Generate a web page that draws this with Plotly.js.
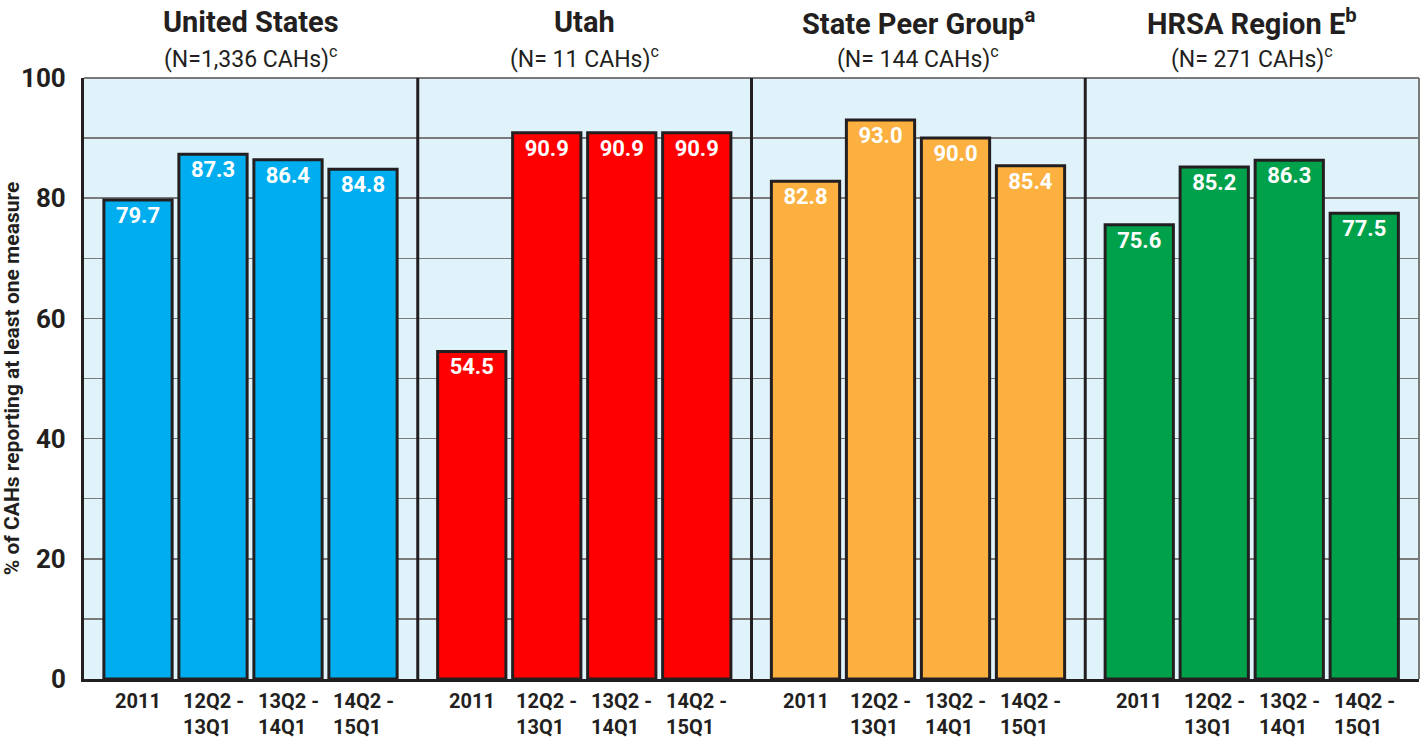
<!DOCTYPE html>
<html>
<head>
<meta charset="utf-8">
<script src="https://cdn.plot.ly/plotly-3.0.1.min.js"></script>
<style>html,body{margin:0;padding:0;background:#fff;}#chart{width:1426px;height:740px;}</style>
</head>
<body>
<div id="chart"></div>
<script>
// ---- data ----
const periods = ["2011", "12Q2 -<br>13Q1", "13Q2 -<br>14Q1", "14Q2 -<br>15Q1"];
const groupTitles = ["United States", "Utah", "State Peer Group<sup>a</sup>", "HRSA Region E<sup>b</sup>"];
const groupSubtitles = ["(N=1,336 CAHs)<sup>c</sup>", "(N= 11 CAHs)<sup>c</sup>", "(N= 144 CAHs)<sup>c</sup>", "(N= 271 CAHs)<sup>c</sup>"];
const usValues = [79.7, 87.3, 86.4, 84.8];
const utahValues = [54.5, 90.9, 90.9, 90.9];
const peerValues = [82.8, 93.0, 90.0, 85.4];
const hrsaValues = [75.6, 85.2, 86.3, 77.5];
const groupColors = ["#00aeef", "#ff0000", "#fbb040", "#00a14b"];
const yTitle = "% of CAHs reporting at least one measure";

// ---- build ----
const FONT = "Roboto, Liberation Sans, sans-serif";
const DARK = "#231f20";
const series = [usValues, utahValues, peerValues, hrsaValues];
const idx = [0, 1, 2, 3];

const traces = series.map((vals, g) => ({
  type: "bar",
  x: idx,
  y: vals,
  xaxis: g === 0 ? "x" : "x" + (g + 1),
  yaxis: "y",
  marker: { color: groupColors[g], line: { color: DARK, width: 3 } },
  texttemplate: "%{y:.1f}",
  textposition: "inside",
  insidetextanchor: "end",
  textangle: 0,
  textfont: { family: FONT, size: 22, color: "#ffffff", weight: "bold" },
  hoverinfo: "x+y",
  showlegend: false,
  cliponaxis: false
}));

const layout = {
  width: 1426, height: 740,
  margin: { l: 84, r: 7, t: 78, b: 61 },
  paper_bgcolor: "#ffffff",
  plot_bgcolor: "#e1f3fa",
  bargap: 0.09,
  font: { family: FONT, color: DARK },
  yaxis: {
    range: [0, 100],
    dtick: 20, tick0: 0,
    showgrid: true, gridcolor: "#7a7a7a", gridwidth: 1.5,
    minor: { dtick: 10, showgrid: true, gridcolor: "#7a7a7a", gridwidth: 1.5, ticks: "" },
    zeroline: false,
    showline: true, linecolor: DARK, linewidth: 3,
    ticks: "", ticklabelstandoff: 10,
    tickfont: { family: FONT, size: 26, color: DARK, weight: "bold" },
    title: { text: yTitle, font: { family: FONT, size: 21, color: DARK, weight: "bold" }, standoff: 10 }
  },
  shapes: [],
  annotations: []
};

for (let g = 0; g < 4; g++) {
  const key = g === 0 ? "xaxis" : "xaxis" + (g + 1);
  const ref = g === 0 ? "x" : "x" + (g + 1);
  layout[key] = {
    domain: [g / 4, (g + 1) / 4],
    anchor: "y",
    range: [-0.72, 3.73],
    tickvals: idx,
    showticklabels: false,
    showgrid: false, zeroline: false,
    showline: true, linecolor: DARK, linewidth: 3,
    fixedrange: true
  };
  layout.annotations.push({
    xref: ref + " domain", yref: "paper", x: 0.5, y: 1, yshift: 56,
    xanchor: "center", yanchor: "middle", showarrow: false,
    text: "<b>" + groupTitles[g] + "</b>",
    font: { family: FONT, size: 29, color: DARK }
  });
  layout.annotations.push({
    xref: ref + " domain", yref: "paper", x: 0.5, y: 1, yshift: 21,
    xanchor: "center", yanchor: "middle", showarrow: false,
    text: groupSubtitles[g],
    font: { family: FONT, size: 23, color: DARK }
  });
  periods.forEach((p, i) => {
    layout.annotations.push({
      xref: ref, yref: "paper", x: i, y: 0, yshift: -8,
      xanchor: "center", yanchor: "top", align: "left", showarrow: false,
      text: "<b>" + p + "</b>",
      font: { family: FONT, size: 20, color: DARK }
    });
  });
  if (g > 0) {
    layout.shapes.push({
      type: "line", xref: ref + " domain", yref: "y domain",
      x0: 0, x1: 0, y0: 0, y1: 1,
      line: { color: DARK, width: 3 }, layer: "above"
    });
  }
}
layout.shapes.push({
  type: "line", xref: "paper", yref: "y domain", x0: 0, x1: 1, y0: 1, y1: 1,
  line: { color: "#7a7a7a", width: 2 }, layer: "below"
});
layout.shapes.push({
  type: "line", xref: "paper", yref: "y domain", x0: 1, x1: 1, y0: 0, y1: 1,
  line: { color: "#7a7a7a", width: 2 }, layer: "below"
});

Plotly.newPlot("chart", traces, layout, { displayModeBar: false, staticPlot: true });
</script>
</body>
</html>
